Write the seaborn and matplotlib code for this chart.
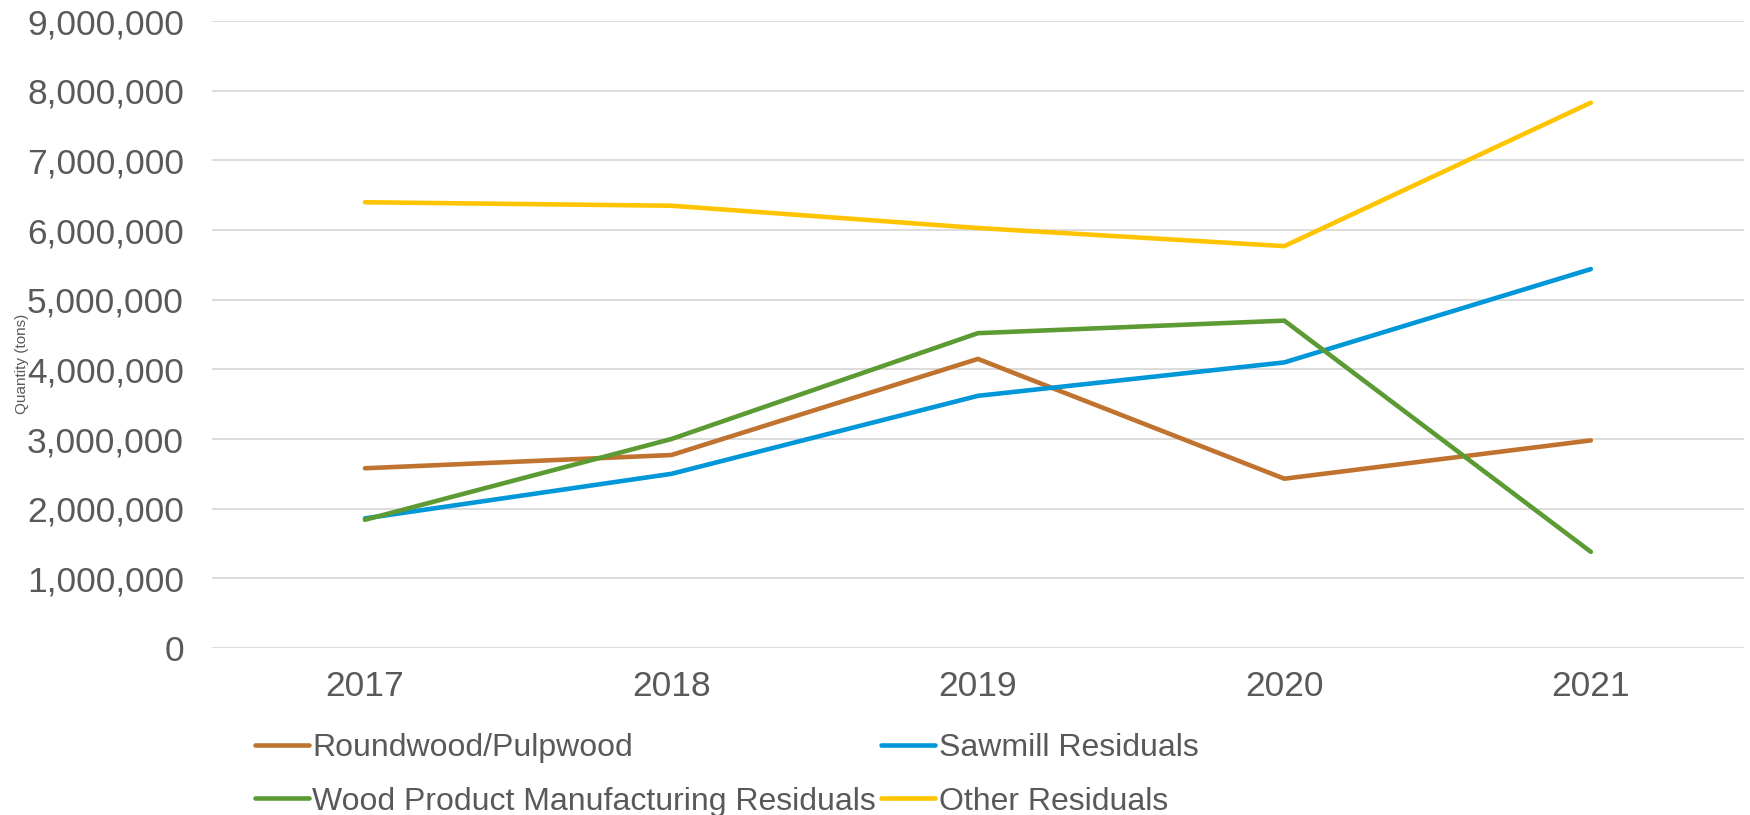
import pandas as pd
import numpy as np
import matplotlib
matplotlib.use("Agg")
import matplotlib.pyplot as plt
import matplotlib.ticker as mticker
import seaborn as sns

# data (tons)
years = ["2017", "2018", "2019", "2020", "2021"]
roundwood = [2580000, 2770000, 4150000, 2430000, 2980000]
sawmill = [1860000, 2500000, 3620000, 4100000, 5440000]
wood_product = [1840000, 3000000, 4520000, 4700000, 1380000]
other = [6400000, 6350000, 6030000, 5770000, 7830000]

series_names = ["Roundwood/Pulpwood", "Sawmill Residuals",
                "Wood Product Manufacturing Residuals", "Other Residuals"]
colors = ["#C0722F", "#0097D8", "#5C9B33", "#FFC400"]

df = pd.DataFrame({
    "Year": years * 4,
    "Quantity": roundwood + sawmill + wood_product + other,
    "Series": np.repeat(series_names, len(years)),
})

sns.set_theme(style="white")
plt.rcParams["font.family"] = ["Liberation Sans", "DejaVu Sans"]
text_color = "#595959"

fig = plt.figure(figsize=(17.5, 8.15), dpi=100)
ax = fig.add_axes([0.121, 0.205, 0.8756, 0.769])

sns.lineplot(data=df, x="Year", y="Quantity", hue="Series", hue_order=series_names,
             palette=colors, linewidth=3.3, sort=False, ax=ax, legend=False)

ax.set_xlim(-0.5, 4.5)
ax.set_ylim(0, 9000000)
ax.yaxis.set_major_locator(mticker.MultipleLocator(1000000))
ax.yaxis.set_major_formatter(mticker.FuncFormatter(lambda v, p: f"{int(v):,}"))
ax.grid(axis="y", color="#D9D9D9", linewidth=1.3)
ax.set_axisbelow(True)
for s in ax.spines.values():
    s.set_visible(False)
ax.tick_params(axis="both", length=0, labelsize=25.5, labelcolor=text_color)
ax.tick_params(axis="x", pad=16)
ax.tick_params(axis="y", pad=20)
ax.set_xlabel("")
ax.set_ylabel("Quantity (tons)", fontsize=11, color=text_color)
ax.yaxis.set_label_coords(-0.119, 0.453)

# legend fills row by row in the original, so reorder for matplotlib's column fill
order = [0, 2, 1, 3]
handles = [plt.Line2D([], [], color=colors[i], linewidth=3.3) for i in order]
labels = [series_names[i] for i in order]
fig.legend(handles, labels, ncol=2, loc="upper left",
           bbox_to_anchor=(0.1457, 0.1006), frameon=False, fontsize=23,
           labelcolor=text_color, handlelength=1.7, handletextpad=0.1,
           columnspacing=0.15, labelspacing=0.74, borderaxespad=0, borderpad=0)

fig.savefig("out.png", dpi=100)
